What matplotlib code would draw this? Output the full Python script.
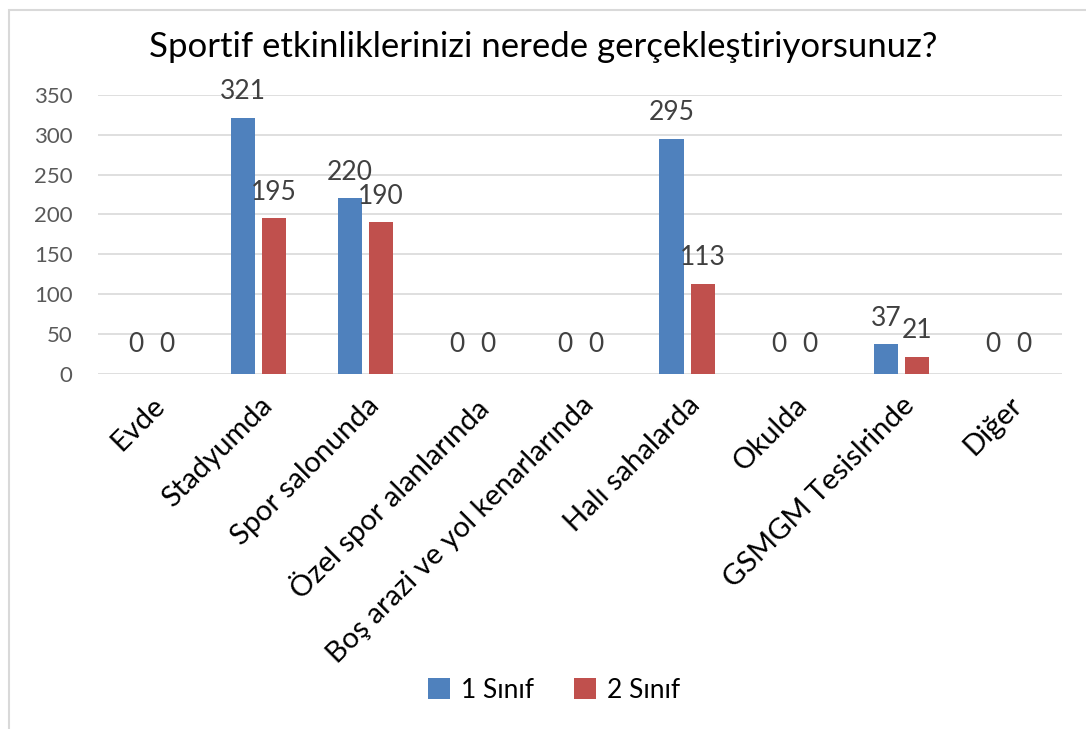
import numpy as np
import matplotlib.pyplot as plt
from matplotlib.patches import Rectangle

plt.rcParams['font.family'] = ['Lato', 'DejaVu Sans']

categories = ['Evde', 'Stadyumda', 'Spor salonunda', 'Özel spor alanlarında',
              'Boş arazi ve yol kenarlarında', 'Halı sahalarda', 'Okulda',
              'GSMGM Tesislrinde', 'Diğer']
sinif1 = [0, 321, 220, 0, 0, 295, 0, 37, 0]
sinif2 = [0, 195, 190, 0, 0, 113, 0, 21, 0]
series_names = ['1 Sınıf', '2 Sınıf']
yticks = [0, 50, 100, 150, 200, 250, 300, 350]

blue = '#4f81bd'
red = '#c0504d'

fig = plt.figure(figsize=(10.86, 7.29), dpi=100)
fig.patches.append(Rectangle((0.008, -0.01), 1.1, 0.996, transform=fig.transFigure,
                             fill=False, edgecolor='#d9d9d9', linewidth=1.5))
ax = fig.add_axes([0.090, 0.487, 0.888, 0.383])

x = np.arange(len(categories))
w = 0.225
off = 0.145
b1 = ax.bar(x - off, sinif1, w, color=blue, label=series_names[0], zorder=3)
b2 = ax.bar(x + off, sinif2, w, color=red, label=series_names[1], zorder=3)

for bars, vals in ((b1, sinif1), (b2, sinif2)):
    for rect, v in zip(bars, vals):
        ax.annotate(str(v), (rect.get_x() + rect.get_width() / 2, v),
                    xytext=(0, 10 if v > 0 else 21), textcoords='offset points',
                    ha='center', va='bottom' if v > 0 else 'center',
                    fontsize=19, color='#404040')

ax.set_xlim(-0.5, len(categories) - 0.5)
ax.set_ylim(0, 350)
ax.set_yticks(yticks)
ax.yaxis.grid(True, color='#d9d9d9', linewidth=1.2, zorder=0)
ax.set_axisbelow(True)
for s in ax.spines.values():
    s.set_visible(False)
ax.tick_params(axis='both', length=0, labelsize=16, labelcolor='#595959')
ax.tick_params(axis='y', pad=18)
ax.set_xticks(x)
ax.set_xticklabels(categories, rotation=45, ha='right', rotation_mode='anchor',
                   fontsize=21, color='black')
ax.tick_params(axis='x', pad=13)

fig.text(0.5, 0.935, 'Sportif etkinliklerinizi nerede gerçekleştiriyorsunuz?',
         ha='center', va='center', fontsize=25)

fig.legend(handles=[b1, b2], labels=series_names, loc='center', ncol=2,
           bbox_to_anchor=(0.51, 0.053), frameon=False, fontsize=19,
           handlelength=0.85, handleheight=0.85, columnspacing=1.5, handletextpad=0.4)

fig.savefig('out.png', dpi=100)
